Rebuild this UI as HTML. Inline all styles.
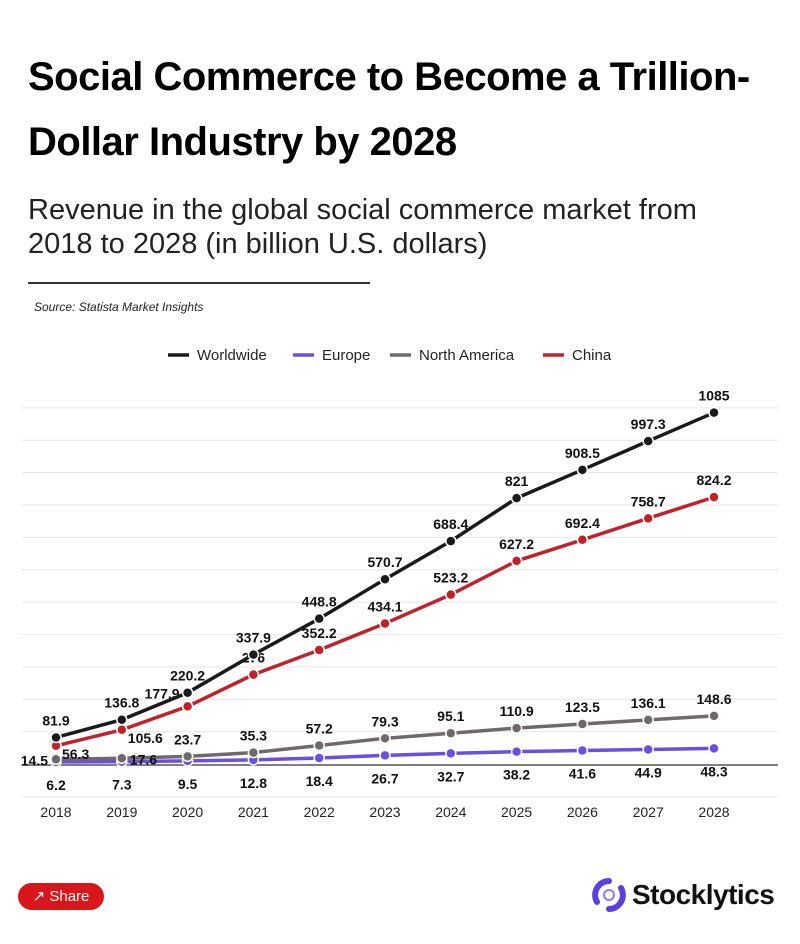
<!DOCTYPE html>
<html><head><meta charset="utf-8"><style>
body{margin:0;width:800px;height:944px;background:#fff;font-family:"Liberation Sans","DejaVu Sans",sans-serif;overflow:hidden;position:relative}
h1{position:absolute;left:28px;top:45px;margin:0;font-size:40px;line-height:65px;font-weight:900;color:#000;letter-spacing:-0.5px;width:780px}
.sub{position:absolute;left:28px;top:193px;font-size:29px;line-height:34px;color:#222}
.rule{position:absolute;left:28px;top:282px;width:342px;height:2px;background:#333}
.src{position:absolute;left:34px;top:300px;font-size:12px;font-style:italic;color:#222}
.share{position:absolute;left:18px;top:883px;width:86px;height:27px;border-radius:14px;background:#d9161c;color:#fff;font-size:15px;line-height:27px;text-align:center}
.logo{position:absolute;left:592px;top:878px;font-size:28px;font-weight:bold;color:#111;display:flex;align-items:center;gap:6px;letter-spacing:-0.5px}
</style></head><body>
<h1>Social Commerce to Become a Trillion-Dollar Industry by 2028</h1>
<div class="sub">Revenue in the global social commerce market from<br>2018 to 2028 (in billion U.S. dollars)</div>
<div class="rule"></div>
<div class="src">Source: Statista Market Insights</div>
<svg id="chart" width="800" height="480" style="position:absolute;left:0;top:340px" font-family="Liberation Sans, DejaVu Sans, sans-serif"></svg>
<div class="share">&#x2197; Share</div>
<div class="logo"><svg width="34" height="34" viewBox="0 0 34 34"><path d="M17 3 A14 14 0 0 0 5 24" stroke="#5b3fe0" stroke-width="6" fill="none" stroke-linecap="round"/><path d="M17 31 A14 14 0 0 0 29 10" stroke="#5b3fe0" stroke-width="6" fill="none" stroke-linecap="round"/><circle cx="17" cy="17" r="5" fill="none" stroke="#8c7cf0" stroke-width="2"/></svg>Stocklytics</div>
<script>
const years=[2018,2019,2020,2021,2022,2023,2024,2025,2026,2027,2028];
const worldwide=[81.9,136.8,220.2,337.9,448.8,570.7,688.4,821,908.5,997.3,1085];
const europe=[6.2,7.3,9.5,12.8,18.4,26.7,32.7,38.2,41.6,44.9,48.3];
const northAmerica=[14.5,17.6,23.7,35.3,57.2,79.3,95.1,110.9,123.5,136.1,148.6];
const china=[56.3,105.6,177.9,276,352.2,434.1,523.2,627.2,692.4,758.7,824.2];
const yTicks=[0,100,200,300,400,500,600,700,800,900,1000,1100];
const svg=document.getElementById('chart');
const NS='http://www.w3.org/2000/svg';
const OY=340;
function x(i){return 56+i*65.8;}
function y(v){return 764-OY-v*0.3238;}
function mk(t,a){const e=document.createElementNS(NS,t);for(const k in a)e.setAttribute(k,a[k]);svg.appendChild(e);return e;}
yTicks.forEach(t=>{if(t===0)return;const l=mk('line',{x1:22,x2:778,y1:y(t),y2:y(t),stroke:'#e6e6e6','stroke-width':1});

});
const bl=mk('line',{x1:22,x2:778,y1:y(0)+1,y2:y(0)+1,stroke:'#555','stroke-width':1.5});


const bl2=mk('line',{x1:22,x2:778,y1:797-OY,y2:797-OY,stroke:'#e6e6e6','stroke-width':1});


years.forEach((yr,i)=>{const t=mk('text',{x:x(i),y:817-OY,'text-anchor':'middle','font-size':14,fill:'#222'});t.textContent=yr;

});
const series=[
 {name:'europe',data:europe,color:'#6a4fe0',pos:'below'},
 {name:'north-america',data:northAmerica,color:'#6e6a6c',pos:'above'},
 {name:'china',data:china,color:'#c0222a',pos:'china'},
 {name:'worldwide',data:worldwide,color:'#1a1a1a',pos:'above'}];
series.forEach(s=>{
 const p=mk('polyline',{points:s.data.map((v,i)=>x(i)+','+y(v)).join(' '),fill:'none',stroke:s.color,'stroke-width':3.5,'stroke-linejoin':'round'});
 
 
 s.data.forEach((v,i)=>{
  const c=mk('circle',{cx:x(i),cy:y(v),r:5,fill:s.color,stroke:'#fff','stroke-width':1.5});
  
  
  let lx=x(i),ly=y(v)-12,anc='middle';
  if(s.pos==='below')ly=y(v)+28;
  if(s.name==='north-america'&&i===0){lx=x(i)-8;ly=y(v)+6;anc='end';}
  if(s.name==='north-america'&&i===1){lx=x(i)+8;ly=y(v)+6;anc='start';}
  if(s.pos==='china'&&i<2){lx=x(i)+6;ly=y(v)+13;anc='start';}
  if(s.pos==='china'&&i===2){lx=x(i)-8;ly=y(v)-8;anc='end';}
  const t=mk('text',{x:lx,y:ly,'text-anchor':anc,'font-size':14,'font-weight':'bold',fill:'#111'});
  t.textContent=v;
  
  
 });
});
const leg=[['Worldwide','#1a1a1a',168],['Europe','#6a4fe0',293],['North America','#6e6a6c',390],['China','#c0222a',543]];
leg.forEach(l=>{const g=mk('line',{x1:l[2],x2:l[2]+21,y1:355-OY,y2:355-OY,stroke:l[1],'stroke-width':3.5});


const t=mk('text',{x:l[2]+29,y:360-OY,'font-size':15,fill:'#222'});t.textContent=l[0];

});
</script>
</body></html>
